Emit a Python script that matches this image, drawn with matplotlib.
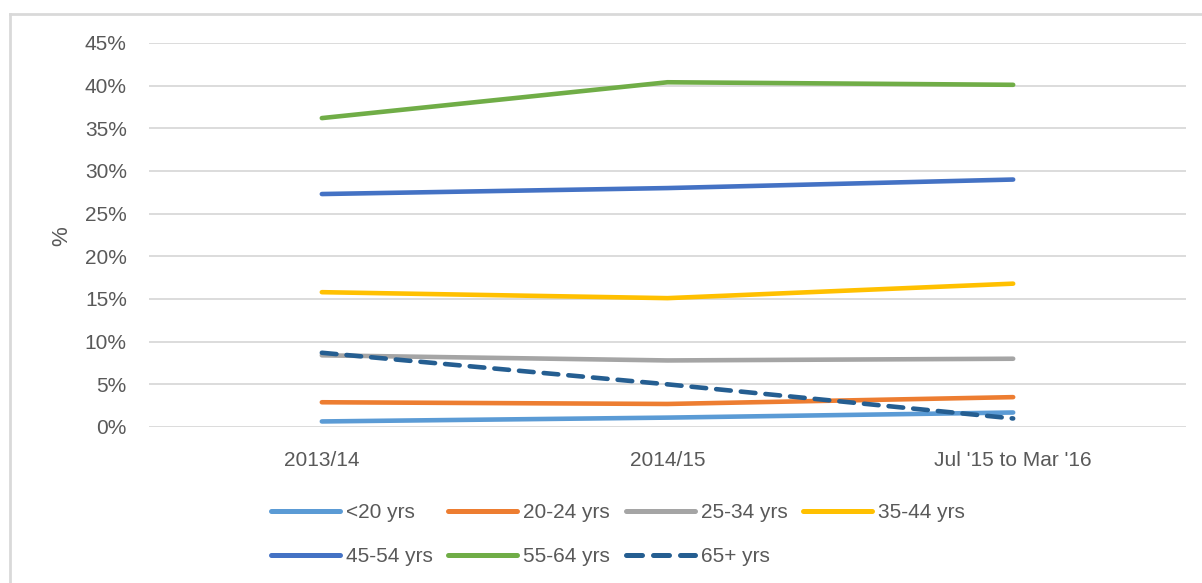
import matplotlib
matplotlib.use("Agg")
import matplotlib.pyplot as plt
from matplotlib.lines import Line2D
from matplotlib.ticker import PercentFormatter

plt.rcParams["font.family"] = ["Liberation Sans", "DejaVu Sans"]

periods = ["2013/14", "2014/15", "Jul '15 to Mar '16"]
age_groups = ["<20 yrs", "20-24 yrs", "25-34 yrs", "35-44 yrs",
              "45-54 yrs", "55-64 yrs", "65+ yrs"]

under_20 = [0.65, 1.1, 1.7]
age_20_24 = [2.9, 2.7, 3.5]
age_25_34 = [8.4, 7.8, 8.0]
age_35_44 = [15.8, 15.1, 16.8]
age_45_54 = [27.3, 28.0, 29.0]
age_55_64 = [36.2, 40.4, 40.1]
age_65_plus = [8.7, 5.0, 1.0]

series = [under_20, age_20_24, age_25_34, age_35_44, age_45_54, age_55_64, age_65_plus]
colors = ["#5B9BD5", "#ED7D31", "#A5A5A5", "#FFC000", "#4472C4", "#70AD47", "#255E91"]
styles = ["-", "-", "-", "-", "-", "-", (0, (3.2, 2.2))]

text_col = "#595959"

fig = plt.figure(figsize=(12.02, 5.83), dpi=100)
ax = fig.add_axes([149 / 1202, 1 - 427 / 583, (1186 - 149) / 1202, (427 - 43) / 583])

x = list(range(len(periods)))
for vals, col, ls, name in zip(series, colors, styles, age_groups):
    ax.plot(x, vals, color=col, lw=3.3, ls=ls, label=name,
            solid_capstyle="round", dash_capstyle="round")

ax.set_xlim(-0.5, len(periods) - 0.5)
ax.set_ylim(0, 45)
ax.set_yticks(range(0, 46, 5))
ax.yaxis.set_major_formatter(PercentFormatter(decimals=0))
ax.set_xticks(x)
ax.set_xticklabels(periods)
ax.tick_params(length=0, labelsize=15, colors=text_col)
ax.tick_params(axis="x", pad=17)
ax.tick_params(axis="y", pad=16)
ax.grid(axis="y", color="#D9D9D9", lw=1.3)
ax.set_axisbelow(True)
for s in ax.spines.values():
    s.set_visible(False)

fig.text(62 / 1202, 1 - 236 / 583, "%", rotation=90, fontsize=16, color=text_col,
         ha="center", va="center")

# legend reads row by row in the reference; matplotlib fills by column
order = [0, 4, 1, 5, 2, 6, 3]
handles = [Line2D([], [], color=colors[i], lw=3.6, ls=styles[i], solid_capstyle="round",
                  dash_capstyle="round") for i in order]
labels = [age_groups[i] for i in order]
fig.legend(handles, labels, loc="center", ncol=4, frameon=False,
           bbox_to_anchor=(618 / 1202, 1 - 535 / 583), fontsize=15,
           labelcolor=text_col, handlelength=3.3, handletextpad=0.3,
           columnspacing=0.75, labelspacing=1.2)

# outer chart border (top and left visible)
fig.add_artist(Line2D([10 / 1202, 1.0], [1 - 14 / 583, 1 - 14 / 583],
                      transform=fig.transFigure, color="#D9D9D9", lw=2))
fig.add_artist(Line2D([10 / 1202, 10 / 1202], [0.0, 1 - 14 / 583],
                      transform=fig.transFigure, color="#D9D9D9", lw=2))

fig.savefig("out.png", dpi=100, facecolor="white")
